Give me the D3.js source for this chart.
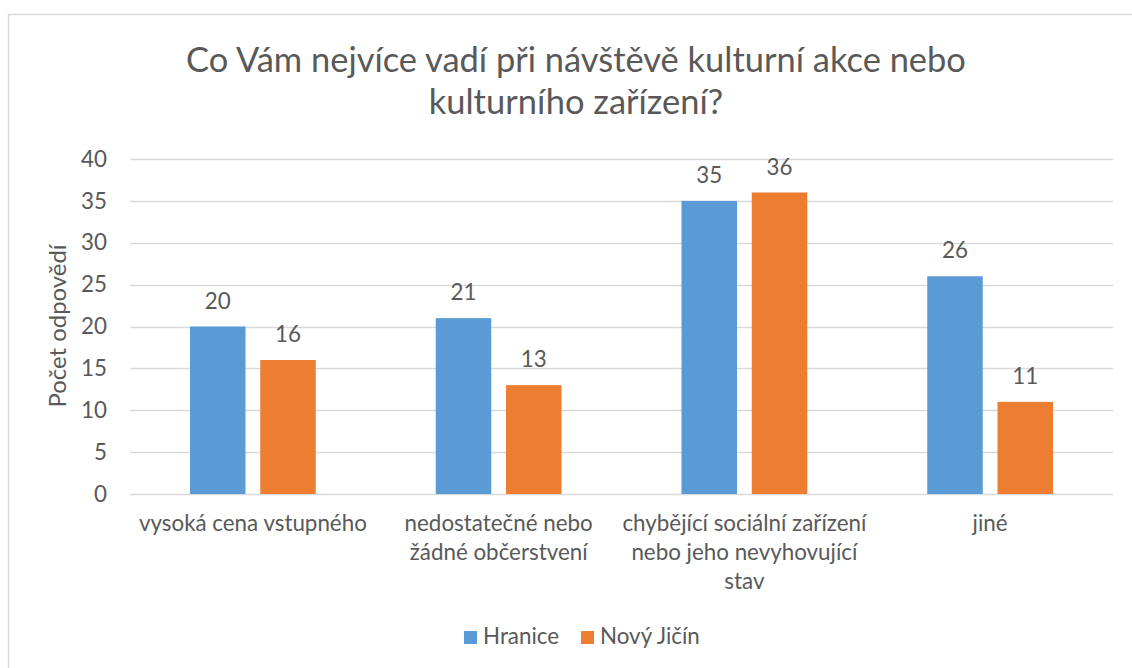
<!DOCTYPE html>
<html><head><meta charset="utf-8">
<script src="https://cdn.jsdelivr.net/npm/d3@7"></script>
<style>body{margin:0;background:#fff}svg{display:block}text{font-family:Lato,"Open Sans",sans-serif;fill:#595959}</style>
</head><body>
<svg id="c" width="1132" height="668"></svg>
<script>
const titleLines = ["Co Vám nejvíce vadí při návštěvě kulturní akce nebo", "kulturního zařízení?"];
const categories = ["vysoká cena vstupného", "nedostatečné nebo\nžádné občerstvení", "chybějící sociální zařízení\nnebo jeho nevyhovující\nstav", "jiné"];
const seriesNames = ["Hranice", "Nový Jičín"];
const hranice = [20, 21, 35, 26];
const novyJicin = [16, 13, 36, 11];
const yTicks = [0, 5, 10, 15, 20, 25, 30, 35, 40];
const yTitle = "Počet odpovědí";
const colors = ["#5b9bd5", "#ed7d31"];

const svg = d3.select("#c");
svg.append("rect").attr("x", 8.5).attr("y", 14.5).attr("width", 1140).attr("height", 700)
  .attr("fill", "#fff").attr("stroke", "#d9d9d9").attr("stroke-width", 1.5);

function fitSize(str, target, base) {
  const t = svg.append("text").style("font-size", base + "px").text(str);
  const w = t.node().getComputedTextLength();
  t.remove();
  return base * target / w;
}
const fs = fitSize("vysoká cena vstupného", 228, 18);
const titleFs = fitSize(titleLines[0], 780, 32);

const x0 = d3.scaleBand().domain(categories).range([130, 1113]).padding(0);
const x1 = d3.scaleBand().domain(seriesNames).range([0, x0.bandwidth()]).paddingInner(0.21).paddingOuter(0.854);
const y = d3.scaleLinear().domain([0, 40]).range([494, 159]);

svg.append("g").selectAll("line").data(yTicks).join("line")
  .attr("x1", 130).attr("x2", 1113)
  .attr("y1", d => Math.round(y(d)) + 0.5).attr("y2", d => Math.round(y(d)) + 0.5)
  .attr("stroke", "#d9d9d9").attr("stroke-width", 1.5);

const yAxis = d3.axisLeft(y).tickValues(yTicks).tickSize(0).tickPadding(23);
const ga = svg.append("g").attr("transform", "translate(130,0)").call(yAxis);
ga.select(".domain").remove();
ga.selectAll("text").style("font-size", fs + "px").style("font-family", 'Lato,"Open Sans",sans-serif').attr("fill", "#595959");

svg.append("text").attr("transform", "translate(66,326) rotate(-90)").attr("text-anchor", "middle")
  .style("font-size", (fs * 1.07) + "px").text(yTitle);

const data = categories.map((c, i) => ({ c, vals: [hranice[i], novyJicin[i]] }));
const groups = svg.append("g").selectAll("g").data(data).join("g")
  .attr("transform", d => `translate(${x0(d.c)},0)`);
groups.selectAll("rect").data(d => d.vals.map((v, j) => ({ v, s: seriesNames[j], j })))
  .join("rect")
  .attr("x", d => x1(d.s)).attr("width", x1.bandwidth())
  .attr("y", d => y(d.v)).attr("height", d => y(0) - y(d.v))
  .attr("fill", d => colors[d.j]);
groups.selectAll("text.lbl").data(d => d.vals.map((v, j) => ({ v, s: seriesNames[j], j })))
  .join("text").attr("class", "lbl")
  .attr("x", d => x1(d.s) + x1.bandwidth() / 2).attr("y", d => y(d.v) - 18)
  .attr("text-anchor", "middle").style("font-size", fs + "px").attr("fill", "#404040").text(d => d.v);

const cl = svg.append("g").selectAll("text").data(categories).join("text")
  .attr("x", d => x0(d) + x0.bandwidth() / 2).attr("y", 531)
  .attr("text-anchor", "middle").style("font-size", fs + "px");
cl.selectAll("tspan").data(d => d.split("\n")).join("tspan")
  .attr("x", function () { return d3.select(this.parentNode).attr("x"); })
  .attr("dy", (d, i) => i === 0 ? 0 : 29).text(d => d);

svg.append("g").selectAll("text").data(titleLines).join("text")
  .attr("x", 576).attr("y", (d, i) => 72 + i * 42).attr("text-anchor", "middle")
  .style("font-size", titleFs + "px").text(d => d);

const lx = [464, 581];
const lg = svg.append("g").selectAll("g").data(seriesNames).join("g")
  .attr("transform", (d, i) => `translate(${lx[i]},631)`);
lg.append("rect").attr("width", 13).attr("height", 13).attr("fill", (d, i) => colors[i]);
lg.append("text").attr("x", 19).attr("y", 13).style("font-size", fs + "px").text(d => d);
</script>
</body></html>
